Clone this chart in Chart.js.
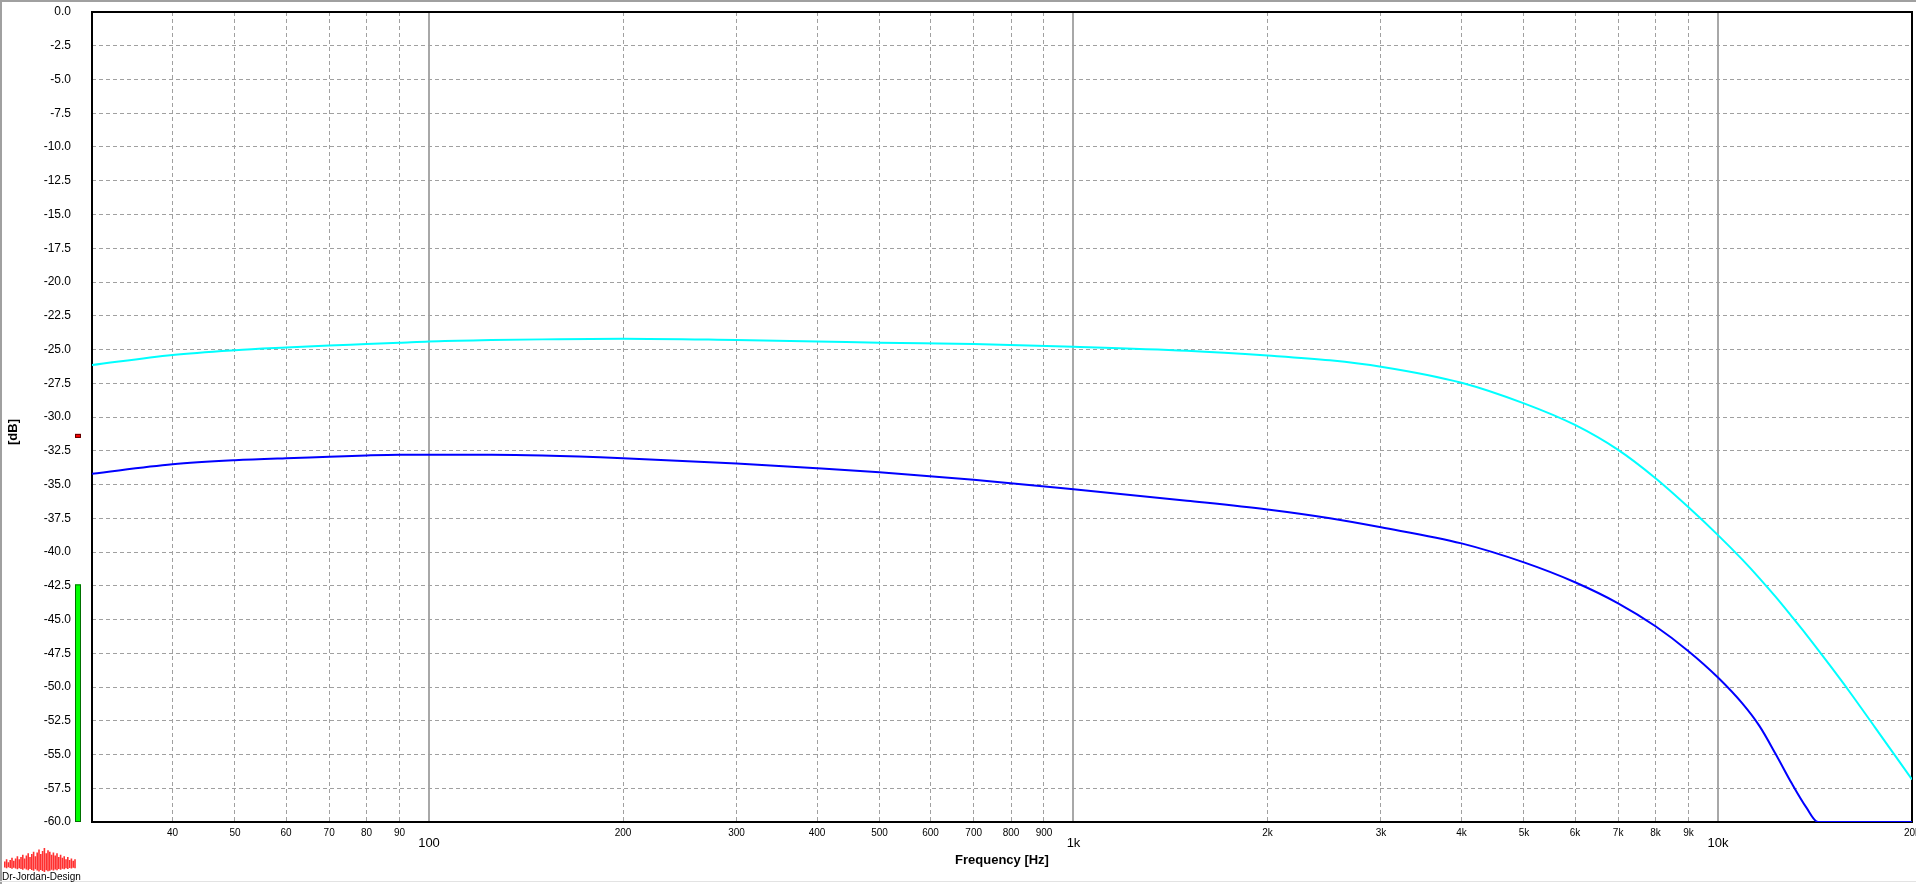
<!DOCTYPE html>
<html>
<head>
<meta charset="utf-8">
<script src="https://cdn.jsdelivr.net/npm/chart.js@4.4.1/dist/chart.umd.min.js"></script>
<style>
html, body { margin: 0; padding: 0; background: #fff; }
canvas { display: block; }
</style>
</head>
<body>
<canvas id="myChart" width="1916" height="884"></canvas>
<script>
// frequency points [Hz]
var frecuencias = [30, 40, 50, 60, 70, 80, 90, 100, 125, 150, 200, 300, 400, 500, 700,
  1000, 1500, 2000, 2500, 3000, 4000, 5000, 6000, 7000, 8000, 9000, 10000,
  10900, 11600, 12300, 13000, 13700, 14300, 15000, 16000, 17500, 20000];

// levels [dB]
var curvaCian = [-26.15, -25.4, -25.05, -24.85, -24.7, -24.6, -24.5, -24.4, -24.3, -24.25, -24.2, -24.3, -24.4, -24.5, -24.6,
  -24.8, -25.1, -25.45, -25.8, -26.27, -27.46, -28.99, -30.59, -32.44, -34.54, -36.69, -38.75,
  -40.55, -41.95, -43.35, -44.75, -46.1, -47.25, -48.55, -50.35, -52.95, -56.85];

var curvaAzul = [-34.2, -33.5, -33.2, -33.05, -32.95, -32.85, -32.8, -32.8, -32.8, -32.85, -33.05, -33.45, -33.8, -34.1, -34.65,
  -35.35, -36.2, -36.85, -37.5, -38.17, -39.36, -40.77, -42.24, -43.8, -45.5, -47.35, -49.3,
  -51.2, -52.9, -55.0, -57.1, -58.9, -60, -60, -60, -60, -60];

var ticksX = [40, 50, 60, 70, 80, 90, 100, 200, 300, 400, 500, 600, 700, 800, 900, 1000,
  2000, 3000, 4000, 5000, 6000, 7000, 8000, 9000, 10000, 20000];
var ticksMayores = [100, 1000, 10000];

// level meter on the left of the plot
var nivelMedidor = -42.4;
var nivelPico = -31.4;

// logo bars (decoration only)
var barrasLogo = [6, 9, 5, 8, 11, 7, 10, 13, 9, 12, 15, 10, 14, 17, 12, 16, 19, 13, 18, 22, 16, 20, 24, 17, 21, 19, 15, 18, 14, 17, 12, 15, 11, 13, 9, 12, 8, 10, 7, 9];

var fuente = '"Liberation Sans", Arial, sans-serif';

function esMayor(v) { return ticksMayores.indexOf(v) >= 0; }

function etiqueta(v) {
  var t = v >= 1000 ? (v / 1000) + 'k' : String(v);
  return esMayor(v) ? ['', t] : t;
}

function puntos(ys) {
  return frecuencias.map(function (f, i) { return { x: f, y: ys[i] }; });
}

var decoraciones = {
  id: 'decoraciones',
  beforeDraw: function (chart) {
    var c = chart.ctx;
    c.save();
    c.fillStyle = '#fff';
    c.fillRect(0, 0, chart.width, chart.height);
    c.fillStyle = '#a0a0a0';
    c.fillRect(0, 0, chart.width, 2);
    c.fillRect(0, 0, 2, chart.height);
    c.fillStyle = '#e3e3e3';
    c.fillRect(0, chart.height - 3, chart.width, 1);
    c.restore();
  },
  beforeDatasetsDraw: function (chart) {
    var a = chart.chartArea, c = chart.ctx;
    c.save();
    c.strokeStyle = '#000';
    c.lineWidth = 2;
    c.strokeRect(a.left, a.top, a.right - a.left, a.bottom - a.top);
    c.restore();
  },
  afterDraw: function (chart) {
    var c = chart.ctx, y = chart.scales.y;
    c.save();
    // meter
    var yTop = y.getPixelForValue(nivelMedidor), yBot = y.getPixelForValue(-60);
    c.fillStyle = '#00ff00';
    c.fillRect(75, yTop, 6, yBot - yTop);
    c.strokeStyle = '#007000';
    c.lineWidth = 1;
    c.strokeRect(75.5, yTop + 0.5, 5, yBot - yTop - 1);
    var yp = y.getPixelForValue(nivelPico);
    c.fillStyle = '#ff0000';
    c.fillRect(75, yp - 2, 6, 4);
    c.strokeStyle = '#600000';
    c.strokeRect(75.5, yp - 1.5, 5, 3);

    // y title
    c.translate(13, 432);
    c.rotate(-Math.PI / 2);
    c.fillStyle = '#000';
    c.font = 'bold 13px ' + fuente;
    c.textAlign = 'center';
    c.textBaseline = 'middle';
    c.fillText('[dB]', 0, 0);
    c.setTransform(1, 0, 0, 1, 0, 0);

    // logo
    c.fillStyle = '#ff3030';
    barrasLogo.forEach(function (h, i) {
      c.fillRect(4 + i * 1.8, 866 - h * 0.75, 1.6, h);
    });
    c.fillStyle = '#000';
    c.font = '10px ' + fuente;
    c.textAlign = 'left';
    c.textBaseline = 'middle';
    c.fillText('Dr-Jordan-Design', 2, 877);
    c.restore();
  }
};

var ctx = document.getElementById('myChart');

var myChart = new Chart(ctx, {
  type: 'line',
  data: {
    datasets: [{
      label: 'cyan',
      data: puntos(curvaCian),
      borderColor: '#00ffff',
      borderWidth: 2,
      pointRadius: 0,
      cubicInterpolationMode: 'monotone',
      fill: false
    }, {
      label: 'blue',
      data: puntos(curvaAzul),
      borderColor: '#0000ff',
      borderWidth: 2,
      pointRadius: 0,
      cubicInterpolationMode: 'monotone',
      fill: false
    }]
  },
  options: {
    responsive: false,
    devicePixelRatio: 1,
    animation: false,
    layout: { padding: { left: 0, top: 12, right: 4, bottom: 0 } },
    plugins: {
      legend: { display: false },
      tooltip: { enabled: false }
    },
    scales: {
      x: {
        type: 'logarithmic',
        min: 30,
        max: 20000,
        afterBuildTicks: function (scale) {
          scale.ticks = ticksX.map(function (v) { return { value: v }; });
        },
        afterFit: function (scale) {
          scale.height = 62;
          scale.paddingLeft = 0;
          scale.paddingRight = 0;
        },
        ticks: {
          autoSkip: false,
          maxRotation: 0,
          minRotation: 0,
          padding: 5,
          color: '#000',
          callback: function (v) { return etiqueta(v); },
          font: function (c) {
            if (c.tick && esMayor(c.tick.value)) {
              return { family: fuente, size: 13, lineHeight: 0.82 };
            }
            return { family: fuente, size: 10, lineHeight: 1.2 };
          }
        },
        grid: {
          drawTicks: false,
          color: function (c) { return c.tick && esMayor(c.tick.value) ? '#a8a8a8' : '#a0a0a0'; },
          lineWidth: function (c) { return c.tick && esMayor(c.tick.value) ? 2 : 1; }
        },
        border: {
          display: false,
          dash: function (c) { return c.tick && esMayor(c.tick.value) ? [] : [4, 3]; }
        },
        title: {
          display: true,
          text: 'Frequency [Hz]',
          color: '#000',
          font: { family: fuente, size: 13, weight: 'bold' },
          padding: { top: 0, bottom: 16 }
        }
      },
      y: {
        min: -60,
        max: 0,
        afterFit: function (scale) {
          scale.width = 92;
          scale.paddingTop = 0;
          scale.paddingBottom = 0;
        },
        ticks: {
          stepSize: 2.5,
          maxTicksLimit: 100,
          padding: 21,
          color: '#000',
          font: { family: fuente, size: 12 },
          callback: function (v) { return v.toFixed(1); }
        },
        grid: {
          drawTicks: false,
          color: '#a0a0a0',
          lineWidth: 1
        },
        border: { display: false, dash: [4, 3] }
      }
    }
  },
  plugins: [decoraciones]
});
</script>
</body>
</html>
